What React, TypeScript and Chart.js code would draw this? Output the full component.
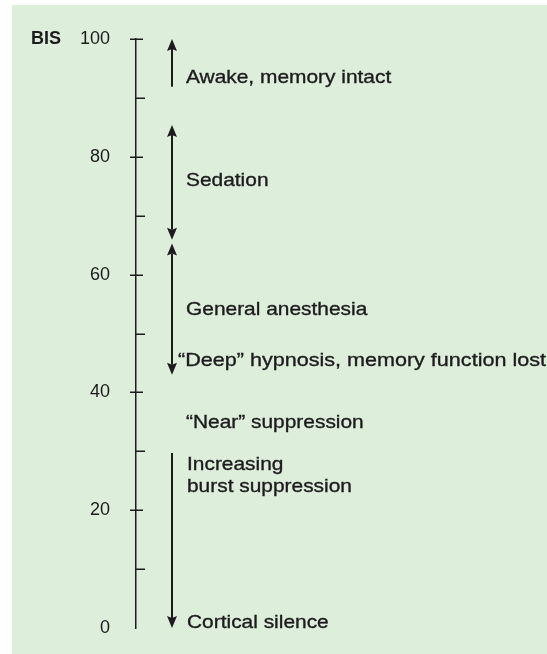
import React, { useEffect, useRef } from "react";
import { Chart, registerables } from "chart.js";

Chart.register(...registerables);

// ---- data ----
const axisTitle = "BIS";
const tickValues = [0, 10, 20, 30, 40, 50, 60, 70, 80, 90, 100];
const majorTickLabels = ["0", "20", "40", "60", "80", "100"];

// arrows (BIS values)
const arrowFrom = [91.9, 85.4, 65.3, 29.7];
const arrowTo = [100, 65.9, 43.0, 0];
const headAtFrom = [false, true, true, false];
const headAtTo = [true, true, true, true];

// annotation texts and their BIS values (baseline)
const labelTexts = [
  "Awake, memory intact",
  "Sedation",
  "General anesthesia",
  "\u201CDeep\u201D hypnosis, memory function lost",
  "\u201CNear\u201D suppression",
  "Increasing",
  "burst suppression",
  "Cortical silence",
];
const labelValues = [92.5, 75.1, 53.1, 44.5, 34.0, 26.8, 23.1, 0.05];

// ---- styles ----
const BG = "rgb(221, 238, 219)";
const INK = "#1c1c1c";
const AXIS_WIDTH = 136;
const ARROW_DX = 36;
const LABEL_DX = [50, 50, 50, 42, 50, 51, 51, 51];
const LABEL_STRETCH = [1.1, 1.1, 1.1, 1.135, 1.1, 1.1, 1.1, 1.1];
const FONT_FAMILY = '"Liberation Sans", Arial, Helvetica, sans-serif';

const bisPlugin = {
  id: "bisPlugin",
  beforeDraw(chart: any) {
    const ctx = chart.ctx;
    ctx.save();
    ctx.fillStyle = "#ffffff";
    ctx.fillRect(0, 0, chart.width, chart.height);
    ctx.fillStyle = BG;
    ctx.fillRect(12, 5, chart.width - 12, chart.height - 5);
    ctx.restore();
  },
  afterDraw(chart: any) {
    const ctx = chart.ctx;
    const ys = chart.scales.y;
    const axisX = chart.chartArea.left;
    ctx.save();

    // tick marks
    ctx.strokeStyle = INK;
    ctx.lineWidth = 1.5;
    tickValues.forEach((v) => {
      if (v === 0) return;
      const py = Math.round(ys.getPixelForValue(v)) + 0.25;
      const major = v % 20 === 0;
      ctx.beginPath();
      ctx.moveTo(major ? axisX - 6 : axisX, py);
      ctx.lineTo(major ? axisX + 7 : axisX + 9, py);
      ctx.stroke();
    });

    // axis title
    ctx.fillStyle = INK;
    ctx.font = `bold 18px ${FONT_FAMILY}`;
    ctx.textAlign = "left";
    ctx.textBaseline = "middle";
    ctx.fillText(axisTitle, 31, ys.getPixelForValue(100));

    // arrows
    const ax = axisX + ARROW_DX;
    const headLen = 12;
    const headHalf = 5;
    ctx.strokeStyle = INK;
    ctx.fillStyle = INK;
    ctx.lineWidth = 2;
    for (let i = 0; i < arrowFrom.length; i++) {
      const pFrom = ys.getPixelForValue(arrowFrom[i]);
      const pTo = ys.getPixelForValue(arrowTo[i]);
      const dir = Math.sign(pTo - pFrom); // +1 pointing down the page
      const startY = headAtFrom[i] ? pFrom + dir * (headLen - 2) : pFrom;
      const endY = headAtTo[i] ? pTo - dir * (headLen - 2) : pTo;
      ctx.beginPath();
      ctx.moveTo(ax, startY);
      ctx.lineTo(ax, endY);
      ctx.stroke();
      const drawHead = (tip: number, d: number) => {
        ctx.beginPath();
        ctx.moveTo(ax, tip);
        ctx.lineTo(ax - headHalf, tip - d * headLen);
        ctx.lineTo(ax, tip - d * (headLen - 2));
        ctx.lineTo(ax + headHalf, tip - d * headLen);
        ctx.closePath();
        ctx.fill();
      };
      if (headAtTo[i]) drawHead(pTo, dir);
      if (headAtFrom[i]) drawHead(pFrom, -dir);
    }

    // annotation texts
    ctx.font = `19px ${FONT_FAMILY}`;
    ctx.textAlign = "left";
    ctx.textBaseline = "alphabetic";
    ctx.fillStyle = INK;
    ctx.strokeStyle = INK;
    ctx.lineWidth = 0.35;
    labelTexts.forEach((t, i) => {
      const py = ys.getPixelForValue(labelValues[i]);
      ctx.save();
      ctx.translate(axisX + LABEL_DX[i], py);
      ctx.scale(LABEL_STRETCH[i], 1);
      ctx.fillText(t, 0, 0);
      ctx.strokeText(t, 0, 0);
      ctx.restore();
    });

    ctx.restore();
  },
};

export default function App() {
  const ref = useRef<HTMLCanvasElement | null>(null);

  useEffect(() => {
    if (!ref.current) return;
    const chart = new Chart(ref.current, {
      type: "line",
      data: {
        datasets: [],
      },
      options: {
        animation: false,
        responsive: false,
        devicePixelRatio: 1,
        layout: { padding: { top: 39, bottom: 26, left: 0, right: 0 } },
        plugins: {
          legend: { display: false },
          tooltip: { enabled: false },
          title: { display: false },
        },
        scales: {
          x: { type: "linear", display: false, min: 0, max: 100 },
          y: {
            type: "linear",
            position: "left",
            min: 0,
            max: 100,
            afterFit: (scale: any) => {
              scale.width = AXIS_WIDTH;
            },
            afterBuildTicks: (scale: any) => {
              scale.ticks = tickValues.map((v) => ({ value: v }));
            },
            grid: {
              display: true,
              drawOnChartArea: false,
              drawTicks: true,
              tickLength: 26,
              tickColor: "rgba(0,0,0,0)",
            },
            border: { display: true, color: INK, width: 1.5 },
            ticks: {
              autoSkip: false,
              padding: 0,
              color: INK,
              font: { size: 18, family: FONT_FAMILY },
              callback: (value: any) => {
                const idx = majorTickLabels.indexOf(String(value));
                return idx >= 0 ? majorTickLabels[idx] : "";
              },
            },
          },
        },
      },
      plugins: [bisPlugin],
    });
    return () => chart.destroy();
  }, []);

  return (
    <div style={{ position: "fixed", left: 0, top: 0, width: 547, height: 654 }}>
      <canvas ref={ref} width={547} height={654} style={{ display: "block" }} />
    </div>
  );
}
